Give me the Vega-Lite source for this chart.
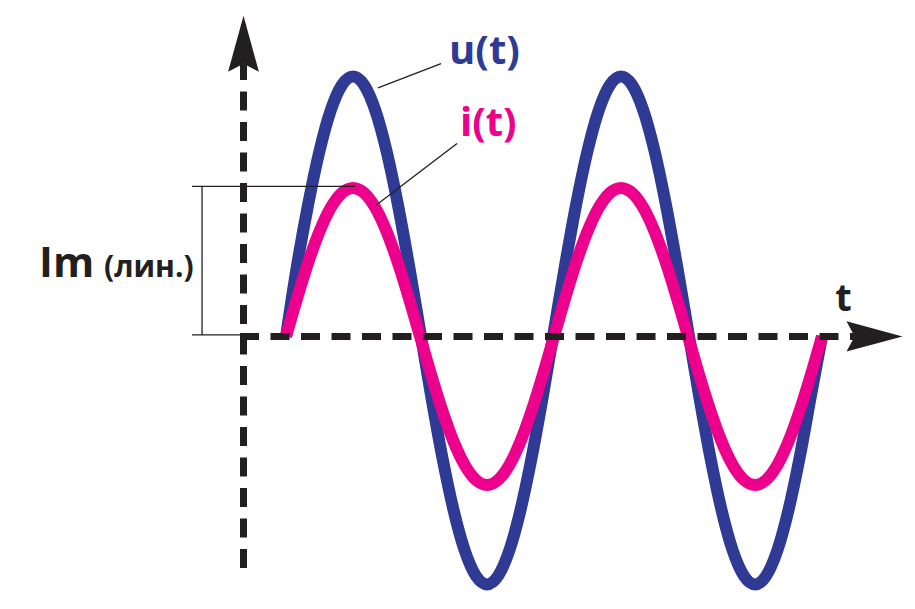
{
  "$schema": "https://vega.github.io/schema/vega-lite/v6.json",
  "width": 915,
  "height": 609,
  "autosize": {"type": "fit", "contains": "padding"},
  "padding": 0,
  "background": "white",
  "config": {"view": {"stroke": null}},
  "datasets": {
    "waves": [
      {"s":"u","t":0,"v":0},{"s":"u","t":15,"v":0.483},{"s":"u","t":30,"v":0.895},{"s":"u","t":45,"v":1.249},{"s":"u","t":60,"v":1.521},{"s":"u","t":75,"v":1.692},{"s":"u","t":90,"v":1.75},{"s":"u","t":105,"v":1.692},{"s":"u","t":120,"v":1.521},{"s":"u","t":135,"v":1.249},{"s":"u","t":150,"v":0.895},{"s":"u","t":165,"v":0.483},
      {"s":"u","t":180,"v":0.04},{"s":"u","t":195,"v":-0.403},{"s":"u","t":210,"v":-0.815},{"s":"u","t":225,"v":-1.169},{"s":"u","t":240,"v":-1.441},{"s":"u","t":255,"v":-1.612},{"s":"u","t":270,"v":-1.67},{"s":"u","t":285,"v":-1.612},{"s":"u","t":300,"v":-1.441},{"s":"u","t":315,"v":-1.169},{"s":"u","t":330,"v":-0.815},{"s":"u","t":345,"v":-0.403},
      {"s":"u","t":360,"v":0.04},{"s":"u","t":375,"v":0.483},{"s":"u","t":390,"v":0.895},{"s":"u","t":405,"v":1.249},{"s":"u","t":420,"v":1.521},{"s":"u","t":435,"v":1.692},{"s":"u","t":450,"v":1.75},{"s":"u","t":465,"v":1.692},{"s":"u","t":480,"v":1.521},{"s":"u","t":495,"v":1.249},{"s":"u","t":510,"v":0.895},{"s":"u","t":525,"v":0.483},
      {"s":"u","t":540,"v":0.04},{"s":"u","t":555,"v":-0.403},{"s":"u","t":570,"v":-0.815},{"s":"u","t":585,"v":-1.169},{"s":"u","t":600,"v":-1.441},{"s":"u","t":615,"v":-1.612},{"s":"u","t":630,"v":-1.67},{"s":"u","t":645,"v":-1.612},{"s":"u","t":660,"v":-1.441},{"s":"u","t":675,"v":-1.169},{"s":"u","t":690,"v":-0.815},{"s":"u","t":705,"v":-0.403},{"s":"u","t":720,"v":0},
      {"s":"i","t":0,"v":0},{"s":"i","t":15,"v":0.259},{"s":"i","t":30,"v":0.5},{"s":"i","t":45,"v":0.707},{"s":"i","t":60,"v":0.866},{"s":"i","t":75,"v":0.966},{"s":"i","t":90,"v":1},{"s":"i","t":105,"v":0.966},{"s":"i","t":120,"v":0.866},{"s":"i","t":135,"v":0.707},{"s":"i","t":150,"v":0.5},{"s":"i","t":165,"v":0.259},
      {"s":"i","t":180,"v":0},{"s":"i","t":195,"v":-0.259},{"s":"i","t":210,"v":-0.5},{"s":"i","t":225,"v":-0.707},{"s":"i","t":240,"v":-0.866},{"s":"i","t":255,"v":-0.966},{"s":"i","t":270,"v":-1},{"s":"i","t":285,"v":-0.966},{"s":"i","t":300,"v":-0.866},{"s":"i","t":315,"v":-0.707},{"s":"i","t":330,"v":-0.5},{"s":"i","t":345,"v":-0.259},
      {"s":"i","t":360,"v":0},{"s":"i","t":375,"v":0.259},{"s":"i","t":390,"v":0.5},{"s":"i","t":405,"v":0.707},{"s":"i","t":420,"v":0.866},{"s":"i","t":435,"v":0.966},{"s":"i","t":450,"v":1},{"s":"i","t":465,"v":0.966},{"s":"i","t":480,"v":0.866},{"s":"i","t":495,"v":0.707},{"s":"i","t":510,"v":0.5},{"s":"i","t":525,"v":0.259},
      {"s":"i","t":540,"v":0},{"s":"i","t":555,"v":-0.259},{"s":"i","t":570,"v":-0.5},{"s":"i","t":585,"v":-0.707},{"s":"i","t":600,"v":-0.866},{"s":"i","t":615,"v":-0.966},{"s":"i","t":630,"v":-1},{"s":"i","t":645,"v":-0.966},{"s":"i","t":660,"v":-0.866},{"s":"i","t":675,"v":-0.707},{"s":"i","t":690,"v":-0.5},{"s":"i","t":705,"v":-0.259},{"s":"i","t":720,"v":0}
    ],
    "thin": [
      {"name":"bracket top","t":-126.3,"v":1.01,"t2":92.7,"v2":1.01},
      {"name":"bracket side","t":-112.8,"v":0.01,"t2":-112.8,"v2":1.01},
      {"name":"bracket bottom","t":-126.3,"v":0.01,"t2":-61.8,"v2":0.01},
      {"name":"u leader","t":123.6,"v":1.674,"t2":208.2,"v2":1.836},
      {"name":"i leader","t":120.9,"v":0.883,"t2":229.7,"v2":1.299}
    ],
    "axes": [
      {"name":"time axis","t":-61.8,"v":0,"t2":764,"v2":0},
      {"name":"value axis","t":-57.1,"v":-1.56,"t2":-57.1,"v2":1.836}
    ],
    "arrowRight": [{"t":790.5,"v":0}],
    "arrowUp": [{"t":-57.1,"v":1.97}],
    "labelU": [{"t":219.0,"v":1.832,"label":"u(t)"}],
    "labelI": [{"t":233.7,"v":1.346,"label":"i(t)"}],
    "labelT": [{"t":748.9,"v":0.171,"label":"t"}],
    "labelIm": [{"t":-331.8,"v":0.401,"label":"Im"}],
    "labelLin": [{"t":-244.5,"v":0.401,"label":"(лин.)"}]
  },
  "encoding": {
    "x": {"field":"t","type":"quantitative","scale":{"domain":[-384.2,844.9],"nice":false,"zero":false},"axis":null},
    "y": {"field":"v","type":"quantitative","scale":{"domain":[-1.822,2.265],"nice":false,"zero":false},"axis":null}
  },
  "layer": [
    {
      "data": {"name":"waves"},
      "transform": [{"filter":"datum.s === 'u'"}],
      "mark": {"type":"line","interpolate":"monotone","strokeWidth":12,"strokeCap":"butt","color":"#2e3a94"}
    },
    {
      "data": {"name":"waves"},
      "transform": [{"filter":"datum.s === 'i'"}],
      "mark": {"type":"line","interpolate":"monotone","strokeWidth":12,"strokeCap":"butt","color":"#ec008c"}
    },
    {
      "data": {"name":"thin"},
      "mark": {"type":"rule","strokeWidth":1.3,"color":"#231f20"},
      "encoding": {"x2":{"field":"t2"},"y2":{"field":"v2"}}
    },
    {
      "data": {"name":"axes"},
      "mark": {"type":"rule","strokeWidth":7,"strokeDash":[19,11.5],"strokeCap":"butt","color":"#231f20"},
      "encoding": {"x2":{"field":"t2"},"y2":{"field":"v2"}}
    },
    {
      "data": {"name":"arrowRight"},
      "mark": {"type":"point","shape":"M1,0L-1,-0.54L-0.71,0L-1,0.54Z","size":3136,"filled":true,"fill":"#231f20","strokeWidth":0,"opacity":1}
    },
    {
      "data": {"name":"arrowUp"},
      "mark": {"type":"point","shape":"M0,-1L0.55,1L0,0.71L-0.55,1Z","size":3136,"filled":true,"fill":"#231f20","strokeWidth":0,"opacity":1}
    },
    {
      "data": {"name":"labelU"},
      "mark": {"type":"text","font":"Open Sans","fontWeight":"bold","fontSize":40,"align":"left","baseline":"alphabetic","color":"#2e3a94"},
      "encoding": {"text":{"field":"label"}}
    },
    {
      "data": {"name":"labelI"},
      "mark": {"type":"text","font":"Open Sans","fontWeight":"bold","fontSize":40,"align":"left","baseline":"alphabetic","color":"#ec008c"},
      "encoding": {"text":{"field":"label"}}
    },
    {
      "data": {"name":"labelT"},
      "mark": {"type":"text","font":"Open Sans","fontWeight":"bold","fontSize":38,"align":"center","baseline":"alphabetic","color":"#231f20"},
      "encoding": {"text":{"field":"label"}}
    },
    {
      "data": {"name":"labelIm"},
      "mark": {"type":"text","font":"Open Sans","fontWeight":"bold","fontSize":42,"align":"left","baseline":"alphabetic","color":"#231f20"},
      "encoding": {"text":{"field":"label"}}
    },
    {
      "data": {"name":"labelLin"},
      "mark": {"type":"text","font":"Open Sans","fontWeight":"bold","fontSize":30,"align":"left","baseline":"alphabetic","color":"#231f20"},
      "encoding": {"text":{"field":"label"}}
    }
  ]
}
